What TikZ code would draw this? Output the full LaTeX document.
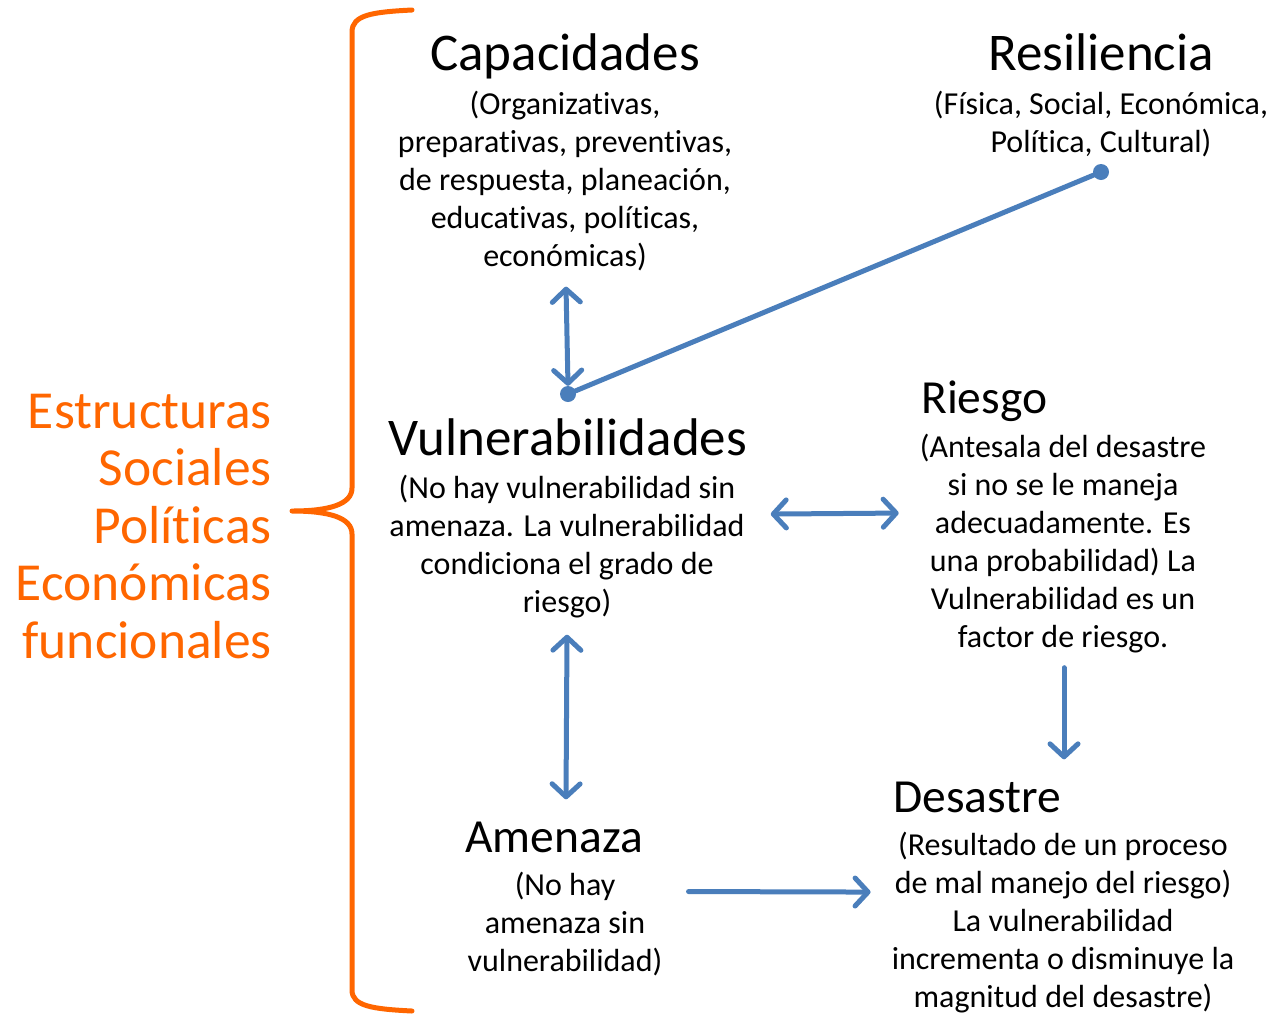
\documentclass[tikz,border=0pt]{standalone}
\usepackage{fontspec}
\setmainfont{Carlito}[Ligatures={NoCommon}]
\usetikzlibrary{arrows.meta,calc}
\definecolor{bl}{HTML}{4A7EBB}
\definecolor{org}{HTML}{FF6600}
\begin{document}
\begin{tikzpicture}[x=1pt,y=-1pt,
  title/.style={inner sep=0pt,anchor=base,font=\fontsize{53}{64}\selectfont},
  stitle/.style={inner sep=0pt,anchor=base,font=\fontsize{47.5}{58}\selectfont},
  body/.style={inner sep=0pt,anchor=base,align=center,font=\fontsize{32}{38}\selectfont},
  conn/.style={draw=bl,line width=5pt,line cap=round},
  arr/.style={conn,-{Straight Barb[length=13pt,width=28pt,round]}},
  dbl/.style={conn,{Straight Barb[length=13pt,width=28pt,round]}-{Straight Barb[length=13pt,width=28pt,round]}},
  dot/.style={circle,fill=bl,inner sep=0pt,minimum size=16pt}]
\useasboundingbox (0,0) rectangle (1271,1013);
% brace
\draw[org,line width=5pt,line cap=round,line join=round]
  (412,10) .. controls (372,12) and (352,15) .. (352,32) -- (352,488)
  .. controls (352,504) and (330,511) .. (292,511)
  .. controls (330,511) and (352,518) .. (352,534) -- (352,990)
  .. controls (352,1006) and (372,1009) .. (412,1011);
\node[inner sep=0pt,anchor=base east,align=right,text=org,
  font=\fontsize{53.5}{57.5}\selectfont] (est) at (272,658)
  {Estructuras\\Sociales\\Políticas\\Económicas\\funcionales};
% nodes (body nodes anchored at the baseline of their last line)
\node[title] (capT) at (565,70) {Capacidades};
\node[body] (capB) at (565,266) {(Organizativas,\\preparativas, preventivas,\\de respuesta, planeación,\\educativas, políticas,\\económicas)};
\node[title] (resT) at (1101,70) {Resiliencia};
\node[body] (resB) at (1101,152) {(Física, Social, Económica,\\Política, Cultural)};
\node[title] (vulT) at (568,455) {Vulnerabilidades};
\node[body] (vulB) at (567,612) {(No hay vulnerabilidad sin\\amenaza. La vulnerabilidad\\condiciona el grado de\\riesgo)};
\node[stitle,anchor=base west] (rieT) at (921,413) {Riesgo};
\node[body] (rieB) at (1063,647) {(Antesala del desastre\\si no se le maneja\\adecuadamente. Es\\una probabilidad) La\\Vulnerabilidad es un\\factor de riesgo.};
\node[stitle] (ameT) at (554,852) {Amenaza};
\node[body] (ameB) at (565,971) {(No hay\\amenaza sin\\vulnerabilidad)};
\node[stitle] (desT) at (977,812) {Desastre};
\node[body] (desB) at (1063,1007) {(Resultado de un proceso\\de mal manejo del riesgo)\\La vulnerabilidad\\incrementa o disminuye la\\magnitud del desastre)};
\node[dot] (dotV) at (568,394) {};
\node[dot] (dotR) at (1101,172) {};
% connectors
\draw[conn] (dotV) -- (dotR);
\draw[dbl] ([xshift=1pt,yshift=-16pt]capB.south) -- (dotV.north);
\draw[dbl] ([xshift=26pt,yshift=32pt]vulB.east) -- ([xshift=-21pt,yshift=30pt]rieB.west);
\draw[dbl] ([yshift=-17pt]vulB.south) -- ([xshift=12pt,yshift=22pt]ameT.north);
\draw[arr] ([xshift=1pt,yshift=-15pt]rieB.south) -- ([xshift=1pt,yshift=22pt]rieB.south |- desT.north);
\draw[arr] ([xshift=26pt,yshift=32pt]ameB.east) -- ([xshift=-21pt,yshift=30pt]desB.west);
\end{tikzpicture}
\end{document}
